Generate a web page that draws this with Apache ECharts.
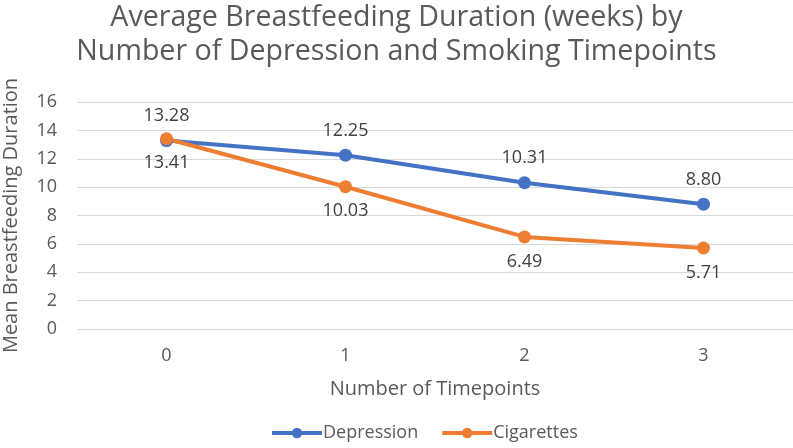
<!DOCTYPE html>
<html>
<head>
<meta charset="utf-8">
<script src="https://cdn.jsdelivr.net/npm/echarts@6/dist/echarts.min.js"></script>
<style>
  html, body { margin: 0; padding: 0; background: #fff; }
  #chart { width: 793px; height: 448px; }
</style>
</head>
<body>
<div id="chart"></div>
<script>
// data
const timepoints = ["0", "1", "2", "3"];
const depression = [13.28, 12.25, 10.31, 8.80];
const cigarettes = [13.41, 10.03, 6.49, 5.71];

const textColor = '#595959';
const font = 'Open Sans';

function initChart() {
  const chart = echarts.init(document.getElementById("chart"));
  const option = {
    title: {
      text: "Average Breastfeeding Duration (weeks) by\nNumber of Depression and Smoking Timepoints",
      left: 'center',
      top: -4,
      textStyle: { fontFamily: font, fontSize: 28.6, fontWeight: 'normal', color: textColor, lineHeight: 34 }
    },
    legend: {
      bottom: 1,
      left: 265,
      itemWidth: 50,
      itemHeight: 13,
      itemGap: 22,
      lineStyle: { width: 4 },
      textStyle: { fontFamily: font, fontSize: 18, color: textColor, padding: [0, 0, 0, -4] }
    },
    grid: { left: 77, right: 0, top: 102, bottom: 119, outerBoundsMode: 'none' },
    xAxis: {
      type: 'category',
      data: timepoints,
      name: "Number of Timepoints",
      nameLocation: 'middle',
      nameGap: 50,
      nameTextStyle: { fontFamily: font, fontSize: 20, color: textColor },
      axisLine: { show: false },
      axisTick: { show: false },
      axisLabel: { fontFamily: font, fontSize: 18, color: textColor, margin: 18 }
    },
    yAxis: {
      type: 'value',
      min: 0,
      max: 16,
      interval: 2,
      name: "Mean Breastfeeding Duration",
      nameLocation: 'middle',
      nameGap: 56,
      nameTextStyle: { fontFamily: font, fontSize: 20, color: textColor },
      axisLabel: { fontFamily: font, fontSize: 18, color: textColor, margin: 20 },
      splitLine: { lineStyle: { color: '#d9d9d9', width: 1 } }
    },
    series: [
      {
        name: "Depression",
        type: "line",
        data: depression,
        symbol: 'circle',
        symbolSize: 13,
        lineStyle: { color: '#4472C4', width: 4 },
        itemStyle: { color: '#4472C4' },
        label: {
          show: true, position: 'top', distance: 9,
          formatter: p => p.value.toFixed(2),
          fontFamily: font, fontSize: 18, color: '#404040'
        }
      },
      {
        name: "Cigarettes",
        type: "line",
        data: cigarettes,
        symbol: 'circle',
        symbolSize: 13,
        lineStyle: { color: '#ED7D31', width: 4 },
        itemStyle: { color: '#ED7D31' },
        label: {
          show: true, position: 'bottom', distance: 9,
          formatter: p => p.value.toFixed(2),
          fontFamily: font, fontSize: 18, color: '#404040'
        }
      }
    ]
  };
  chart.setOption(option);
}

document.addEventListener("DOMContentLoaded", initChart);
</script>
</body>
</html>
